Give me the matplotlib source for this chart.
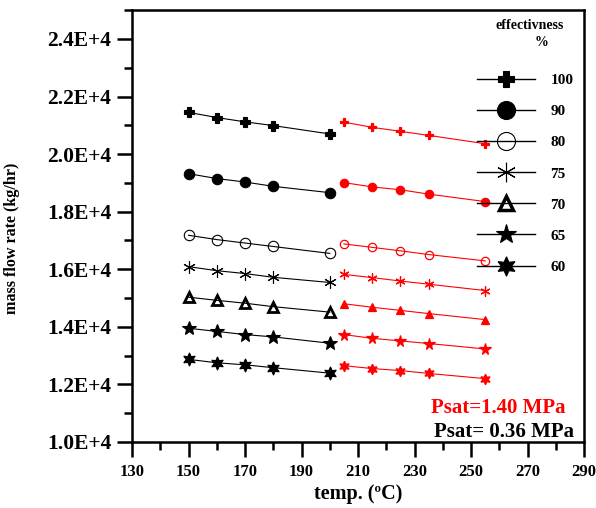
import matplotlib
matplotlib.use("Agg")
import matplotlib.pyplot as plt
from matplotlib.ticker import FixedLocator, MultipleLocator, FuncFormatter
from matplotlib.lines import Line2D

plt.rcParams['font.family'] = ['Liberation Serif', 'DejaVu Serif']
plt.rcParams['font.weight'] = 'bold'

# temperatures for the two saturation pressures
temp_low = [150, 160, 170, 180, 200]    # Psat = 0.36 MPa (black)
temp_high = [205, 215, 225, 235, 255]   # Psat = 1.40 MPa (red)

effectiveness = ['100', '90', '80', '75', '70', '65', '60']

# mass flow rate (kg/hr)
low_100 = [21450, 21270, 21120, 20990, 20700]
low_90 = [19320, 19150, 19030, 18880, 18660]
low_80 = [17180, 17030, 16910, 16790, 16550]
low_75 = [16090, 15950, 15850, 15720, 15540]
low_70 = [15030, 14920, 14820, 14700, 14510]
low_65 = [13950, 13840, 13730, 13650, 13430]
low_60 = [12870, 12750, 12680, 12580, 12390]

high_100 = [21110, 20930, 20790, 20650, 20360]
high_90 = [19010, 18860, 18760, 18610, 18350]
high_80 = [16880, 16760, 16640, 16510, 16290]
high_75 = [15820, 15710, 15590, 15480, 15260]
high_70 = [14800, 14680, 14570, 14460, 14250]
high_65 = [13730, 13600, 13510, 13420, 13230]
high_60 = [12650, 12550, 12480, 12380, 12200]

low_series = [low_100, low_90, low_80, low_75, low_70, low_65, low_60]
high_series = [high_100, high_90, high_80, high_75, high_70, high_65, high_60]

# marker, filled, size on the curves, size in the legend
styles = [
    ('P', True, 7.5, 11),
    ('o', True, 7.5, 13),
    ('o', False, 7.5, 13),
    ((6, 2, 0), False, 9, 14),
    ('^', False, 6.5, 10),
    ('*', True, 10.5, 15),
    ((6, 1, 0), True, 9.5, 14),
]

fig = plt.figure(figsize=(5.96, 5.08), dpi=100)
ax = fig.add_axes([0.2215, 0.13, 0.7585, 0.85])

handles = []
for (mk, filled, ms, lms), lo, hi in zip(styles, low_series, high_series):
    fc = 'black' if filled else 'none'
    mew = 2.0 if mk == '^' else 0.8
    ax.plot(temp_low, lo, color='black', lw=0.8, marker=mk, ms=ms,
            mfc=fc, mec='black', mew=mew)
    fcr = 'red' if filled or mk == '^' else 'none'
    ax.plot(temp_high, hi, color='red', lw=0.8, marker=mk, ms=ms * 0.8,
            mfc=fcr, mec='red', mew=0.9)
    handles.append(Line2D([], [], color='black', lw=1.0, marker=mk,
                          ms=lms, mfc=fc, mec='black',
                          mew=2.5 if mk == '^' else 0.8))

leg = ax.legend(handles, effectiveness, loc='upper right',
                bbox_to_anchor=(1.0, 0.878), frameon=False,
                handlelength=3.8, labelspacing=1.14,
                handletextpad=1.0, borderaxespad=0.3, borderpad=0.4,
                prop={'weight': 'bold', 'size': 11})

# legend heading
ax.text(0.880, 0.965, 'effectivness', transform=ax.transAxes,
        fontsize=10, fontweight='bold', ha='center', va='center')
ax.text(0.905, 0.926, '%', transform=ax.transAxes,
        fontsize=10, fontweight='bold', ha='center', va='center')

ax.text(0.958, 0.079, 'Psat=1.40 MPa', transform=ax.transAxes, color='red',
        fontsize=15, fontweight='bold', ha='right', va='center')
ax.text(0.978, 0.024, 'Psat= 0.36 MPa', transform=ax.transAxes, color='black',
        fontsize=15, fontweight='bold', ha='right', va='center')

ax.set_xlim(130, 290)
ax.set_ylim(10000, 25000)
ax.xaxis.set_major_locator(FixedLocator(list(range(130, 291, 20))))
ax.xaxis.set_minor_locator(MultipleLocator(10))
ax.yaxis.set_major_locator(MultipleLocator(2000))
ax.yaxis.set_minor_locator(MultipleLocator(1000))
ax.yaxis.set_major_formatter(FuncFormatter(
    lambda v, p: f"{v / 1e4:.1f}E+4" if v <= 24000 else ""))

ax.tick_params(which='both', direction='out', width=1.8, top=False, right=False)
ax.tick_params(which='major', length=11, pad=4)
ax.tick_params(axis='y', which='major', labelsize=15.5)
ax.tick_params(axis='x', which='major', labelsize=12, pad=5)
ax.tick_params(which='minor', length=6)
for lab in ax.get_xticklabels() + ax.get_yticklabels():
    lab.set_fontweight('bold')
for sp in ax.spines.values():
    sp.set_linewidth(1.8)

ax.set_xlabel('temp. (ºC)', fontsize=14.5, fontweight='bold', labelpad=3)
ax.set_ylabel('mass flow rate (kg/hr)', fontsize=11.6, fontweight='bold')
ax.yaxis.set_label_coords(-0.248, 0.472)

fig.savefig('out.png', dpi=100)
